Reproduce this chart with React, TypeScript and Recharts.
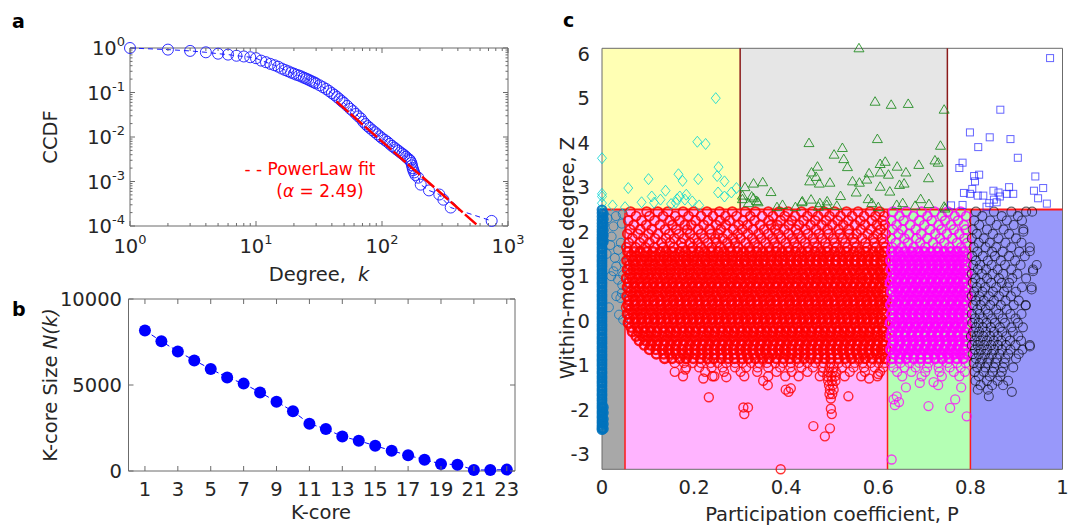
import React from "react";
import { ScatterChart, Scatter, XAxis, YAxis, ReferenceArea, ReferenceLine } from "recharts";

const FONT = "DejaVu Sans, Verdana, sans-serif";
const INK = "#262626";
const BOX = "#6b6b6b";

// ---------- a: degree distribution (CCDF) ----------
const degreeK = [1, 2, 3, 4, 5, 6, 7, 8, 9, 10, 11, 12, 13, 14, 15, 16, 17, 18, 19, 20, 21, 22, 23, 24, 25, 26, 27, 28, 29, 30,
  32, 34, 36, 38, 40, 42, 44, 46, 48, 50, 53, 56, 59, 62, 65, 68, 71, 74, 77, 80, 84, 88, 92, 96, 100, 105, 110, 115, 120,
  125, 130, 135, 140, 145, 150, 155, 160, 165, 168, 171, 173, 175, 177, 180, 184, 194, 203, 236, 285, 307, 351, 742];
const degreeCcdf = [1, 0.92, 0.86, 0.8, 0.745, 0.71, 0.67, 0.645, 0.62, 0.59, 0.52, 0.48, 0.44, 0.41, 0.38, 0.345, 0.32, 0.3,
  0.28, 0.265, 0.25, 0.24, 0.228, 0.215, 0.205, 0.195, 0.185, 0.176, 0.168, 0.16, 0.145, 0.132, 0.12, 0.108, 0.097, 0.088,
  0.079, 0.071, 0.064, 0.058, 0.05, 0.043, 0.038, 0.033, 0.029, 0.026, 0.022, 0.0195, 0.0175, 0.016, 0.0142, 0.0128, 0.0115,
  0.0104, 0.0094, 0.0086, 0.0078, 0.007, 0.0063, 0.0058, 0.0053, 0.0049, 0.0045, 0.0042, 0.0039, 0.0036, 0.0033, 0.0031,
  0.0029, 0.0026, 0.0023, 0.002, 0.0018, 0.0016, 0.0014, 0.00122, 0.00085, 0.00063, 0.00051, 0.00039, 0.00026, 0.00013];
const fitK = [43.5, 561];
const fitCcdf = [0.0627, 0.000109];
const aXTicks = [1, 2, 3, 4, 5, 6, 7, 8, 9, 10, 20, 30, 40, 50, 60, 70, 80, 90, 100, 200, 300, 400, 500, 600, 700, 800, 900, 1000];
const aYTicks = [0.0001, 0.0002, 0.0003, 0.0004, 0.0005, 0.0006, 0.0007, 0.0008, 0.0009, 0.001, 0.002, 0.003, 0.004, 0.005,
  0.006, 0.007, 0.008, 0.009, 0.01, 0.02, 0.03, 0.04, 0.05, 0.06, 0.07, 0.08, 0.09, 0.1, 0.2, 0.3, 0.4, 0.5, 0.6, 0.7, 0.8, 0.9, 1];

// ---------- b: k-core sizes ----------
const kcore = [1, 2, 3, 4, 5, 6, 7, 8, 9, 10, 11, 12, 13, 14, 15, 16, 17, 18, 19, 20, 21, 22, 23];
const kcoreSize = [8170, 7540, 6950, 6430, 5930, 5440, 5080, 4570, 4030, 3470, 2750, 2440, 2010, 1760, 1470, 1180, 910, 660,
  410, 370, 60, 60, 80];
const bXTicks = [1, 3, 5, 7, 9, 11, 13, 15, 17, 19, 21, 23];
const bYTicks = [0, 5000, 10000];

// ---------- c: roles, Z vs P ----------
// rows: [Z, P values in thousandths]
const peripheralRows: [number, string][] = [
  [2.45, "62 97 121 143 176 199 228 255 283 311 333 361 385 404 433 457 482 505 531 556 582 603"],
  [2.35, "74 103 133 159 188 215 241 268 292 322 348 371 397 419 446 469 494 518 543 569 594 613"],
  [2.25, "57 86 114 147 168 203 230 256 277 306 331 362 388 412 438 463 487 512 535 561 586 609"],
  [2.15, "69 96 126 153 180 194 221 248 269 297 316 343 367 381 406 428 453 477 500 524 549 571 597 614"],
  [2.05, "61 83 108 137 161 185 209 234 258 285 305 328 352 376 396 421 442 465 490 514 536 562 584 605"],
  [1.95, "55 78 101 122 146 167 191 215 237 252 273 295 317 340 361 383 405 426 447 471 492 516 537 553 577 598 616"],
  [1.85, "66 90 115 139 157 178 200 222 246 262 284 301 326 346 370 389 413 433 458 478 502 523 545 565 589 608"],
  [1.75, "58 82 103 129 148 172 191 208 230 249 272 289 312 332 355 375 399 418 441 461 485 505 528 548 572 591 612"],
  [1.65, "53 73 94 114 133 156 175 197 215 238 257 277 296 319 339 362 381 404 424 447 467 490 509 533 552 576 595 615"],
  [1.55, "56 70 83 97 111 126 139 153 168 181 195 210 223 237 252 265 279 294 307 321 336 349 363 378 391 405 420 433 447 462 475 489 504 517 531 546 559 573 588 602 614"],
  [1.45, "63 76 91 105 117 133 146 159 175 188 201 217 230 243 259 272 285 301 314 327 343 356 369 385 398 411 427 440 453 469 482 495 511 524 537 553 566 579 595 609"],
  [1.35, "54 68 84 97 110 125 140 152 167 182 196 208 224 238 251 266 281 293 309 323 336 350 366 379 392 408 422 435 450 464 478 491 507 521 534 548 563 576 590 605 616"],
  [1.25, "60 74 88 103 116 130 145 158 172 187 200 214 229 242 256 271 284 298 313 326 340 355 368 382 397 410 424 439 452 466 481 494 508 523 536 550 565 578 592 607"],
  [1.15, "55 68 81 96 109 124 137 150 166 179 192 208 221 234 250 263 276 292 305 318 334 347 360 376 389 402 418 431 444 460 473 486 502 515 528 544 557 570 586 599 613"],
  [1.05, "61 75 89 102 117 131 144 158 173 186 199 214 228 241 255 270 283 297 312 325 338 353 367 380 394 409 422 436 451 464 477 492 506 519 533 548 561 575 590 604 617"],
  [0.95, "53 66 80 94 108 121 136 150 163 177 191 205 219 233 247 261 275 288 302 317 330 344 358 372 386 400 414 427 441 456 469 483 497 511 525 539 553 566 580 595 609"],
  [0.85, "58 72 86 100 113 128 142 155 170 184 197 212 226 239 254 268 281 296 310 323 338 352 365 380 394 407 422 436 449 464 478 491 506 520 533 548 562 575 590 603 616"],
  [0.75, "55 69 82 97 110 124 139 152 166 181 194 208 223 236 250 265 278 292 307 320 334 349 362 376 391 404 418 433 446 460 475 488 502 517 530 544 559 572 586 601 614"],
  [0.65, "62 75 90 103 118 131 146 159 174 187 202 215 230 243 258 271 286 299 314 327 342 355 370 383 398 411 426 439 454 467 482 495 510 523 538 551 566 579 594 608"],
  [0.55, "54 67 81 96 109 123 138 151 165 180 193 207 222 235 249 264 277 291 306 319 333 348 361 375 390 403 417 432 445 459 474 487 501 516 529 543 558 571 585 600 613"],
  [0.45, "59 73 87 101 114 129 143 156 171 185 198 213 227 240 255 269 282 297 311 324 339 353 366 381 395 408 423 437 450 465 479 492 507 521 534 549 563 576 591 605 617"],
  [0.35, "56 70 84 97 111 126 140 153 167 182 196 209 224 238 251 265 280 294 307 321 336 350 363 377 392 406 419 433 448 462 475 489 504 518 531 545 560 574 587 602 615"],
  [0.25, "62 76 89 104 118 131 146 160 173 188 202 215 230 244 257 272 286 299 314 328 341 356 370 383 398 412 425 440 454 467 482 496 509 524 538 551 566 580 593 608"],
  [0.15, "55 68 83 96 110 125 138 152 167 180 194 209 222 236 251 264 278 293 306 320 335 348 362 377 390 404 419 432 446 461 474 488 503 516 530 545 558 572 587 600 614"],
  [0.05, "60 74 87 102 115 129 144 157 171 186 199 213 228 241 255 270 283 297 312 325 339 354 367 381 396 409 423 438 451 465 480 493 507 522 535 549 564 577 591 606"],
  [-0.05, "57 71 85 98 112 127 140 154 169 182 196 211 224 238 253 266 280 295 308 322 337 350 364 379 392 406 421 434 448 463 476 490 505 518 532 547 560 574 589 602 616"],
  [-0.15, "63 77 90 105 119 132 147 161 174 189 203 216 231 245 258 273 287 300 315 329 342 357 371 384 399 413 426 441 455 468 483 497 510 525 539 552 567 581 594 609"],
  [-0.25, "66 79 94 107 120 136 149 162 178 191 204 220 233 246 262 275 288 304 317 330 346 359 372 388 401 414 430 443 456 472 485 498 514 527 540 556 569 582 598 611"],
  [-0.35, "74 88 101 116 130 143 158 172 185 200 214 227 242 256 269 284 298 311 326 340 353 368 382 395 410 424 437 452 466 479 494 508 521 536 550 563 578 592 605 617"],
  [-0.45, "81 95 109 122 137 151 164 179 193 206 221 235 248 263 277 290 305 319 332 347 361 374 389 403 416 431 445 458 473 487 500 515 529 542 557 571 584 599 612"],
  [-0.55, "92 106 119 134 148 161 176 190 203 218 232 245 260 274 287 302 316 329 344 358 371 386 400 413 428 442 455 470 484 497 512 526 539 554 568 581 596 610"],
  [-0.65, "103 117 131 144 159 173 186 201 215 228 243 257 270 285 299 312 327 341 354 369 383 396 411 425 438 453 467 480 495 509 522 537 551 564 579 593 606 617"],
  [-0.75, "118 134 147 161 176 189 203 218 231 245 260 273 287 302 315 329 344 357 371 386 399 413 428 441 455 470 483 497 512 525 539 554 567 581 596 609"],
  [-0.85, "136 152 169 183 198 214 229 243 259 274 288 304 318 333 349 363 378 394 408 423 439 453 468 484 497 513 528 542 558 572 587 603 615"],
  [-0.95, "158 178 197 215 236 251 270 289 305 324 341 358 376 393 410 428 446 463 481 496 514 531 549 566 584 600 614"],
  [-1.05, "183 211 238 262 289 313 338 361 387 409 433 458 480 494 503 521 546 569 592 611"],
  [-1.15, "224 265 301 337 379 412 446 479 492 501 508 538 571 604"],
  [-1.25, "176 244 309 361 398 427 473 489 498 506 527 563 598"],
  [-1.35, "491 499 507"],
  [-1.45, "493 501"],
  [-1.55, "495 503"],
  [-1.65, "494 500"],
  [-1.75, "497"],
];
const peripheralOutliers = [[0.158, -1.15], [0.181, -1.1], [0.22, -1.3], [0.24, -1.25], [0.232, -1.72], [0.307, -1.95],
  [0.317, -1.95], [0.309, -2.1], [0.399, -1.55], [0.405, -1.6], [0.41, -1.52], [0.535, -1.7], [0.459, -2.37], [0.497, -1.98],
  [0.499, -2.1], [0.484, -2.6], [0.495, -2.42], [0.388, -3.34], [0.27, -1.27], [0.35, -1.35], [0.58, -1.3], [0.6, -1.2],
  [0.36, -1.45], [0.052, 0.3]];

const connectorRows: [number, string][] = [
  [2.45, "632 661 694 722 751 779"], [2.35, "646 676 707 738 766 791"], [2.25, "628 655 689 716 745 773"],
  [2.15, "640 669 700 731 758 786"], [2.05, "631 652 681 712 737 764 790"], [1.95, "644 667 693 724 749 776"],
  [1.85, "627 657 683 706 734 761 787"], [1.75, "638 664 691 719 743 771 793"], [1.65, "630 651 677 702 728 754 780"],
  [1.55, "629 643 657 672 686 700 714 729 743 757 771 785"], [1.45, "635 649 664 678 692 707 721 735 750 764 778 792"],
  [1.35, "627 641 656 670 684 699 713 727 742 756 770 784"], [1.25, "633 647 661 676 690 704 719 733 747 762 776 790"],
  [1.15, "628 642 657 671 685 700 714 728 743 757 771 786"], [1.05, "636 650 665 679 693 708 722 736 751 765 779 793"],
  [0.95, "630 644 658 673 687 701 716 730 744 759 773 787"], [0.85, "626 640 655 669 683 698 712 726 741 755 769 784"],
  [0.75, "634 648 662 677 691 705 720 734 748 763 777 791"], [0.65, "629 643 658 672 686 701 715 729 744 758 772 787"],
  [0.55, "637 651 666 680 694 709 723 737 752 766 780 794"], [0.45, "631 645 659 674 688 702 717 731 745 760 774 788"],
  [0.35, "627 641 656 670 684 699 713 727 742 756 770 785"], [0.25, "635 649 663 678 692 706 721 735 749 764 778 792"],
  [0.15, "629 644 658 672 687 701 715 730 744 758 773 787"], [0.05, "633 647 662 676 690 705 719 733 748 762 776 791"],
  [-0.05, "626 640 654 669 683 697 712 726 740 755 769 783"], [-0.15, "636 650 664 679 693 707 722 736 750 765 779 793"],
  [-0.25, "630 644 659 673 687 702 716 730 745 759 773 788"], [-0.35, "628 642 657 671 685 700 714 728 743 757 771 786"],
  [-0.45, "634 648 663 677 691 706 720 734 749 763 777 791"], [-0.55, "631 645 660 674 688 703 717 731 746 760 774 789"],
  [-0.65, "627 641 656 670 684 699 713 727 742 756 770 785"], [-0.75, "635 649 664 678 692 707 721 735 750 764 778 792"],
  [-0.85, "630 646 661 677 692 708 723 739 754 770 785"], [-0.95, "628 648 668 689 709 730 750 771 790"],
  [-1.05, "633 657 681 706 731 755 779"], [-1.15, "641 672 702 733 764 788"], [-1.25, "652 694 738 776"],
];
const connectorOutliers = [[0.633, -1.77], [0.636, -1.9], [0.64, -1.7], [0.645, -1.83], [0.709, -1.92], [0.756, -1.96],
  [0.767, -1.77], [0.792, -2.15], [0.629, -3.12], [0.69, -1.4], [0.73, -1.45], [0.66, -1.5], [0.78, -1.5], [0.72, -1.38]];

const kinlessRows: [number, string][] = [
  [2.45, "812 851 889 921 934"], [2.35, "826 868 903"], [2.25, "808 843 879 912"], [2.15, "819 857 894"],
  [2.05, "805 836 872 915"], [1.95, "814 849 884"], [1.85, "803 829 861 899"], [1.75, "818 842 876 911"],
  [1.65, "807 833 856 889 929"], [1.55, "815 847 870 906"], [1.45, "804 827 853 884 918"], [1.35, "812 838 866 897"],
  [1.25, "806 821 846 875 909"], [1.15, "816 834 859 889 936"], [1.05, "803 825 848 871 902"], [0.95, "811 836 862 891 921"],
  [0.85, "805 822 845 868 884"], [0.75, "814 832 856 880 912 933"], [0.65, "808 826 849 873 899"], [0.55, "803 819 840 862 888"],
  [0.45, "812 829 851 876 905"], [0.35, "806 822 843 866 894 920"], [0.25, "815 833 856 879"], [0.15, "803 820 838 861 887 911"],
  [0.05, "810 826 847 870 898"], [-0.05, "804 818 835 853 875 903"], [-0.15, "812 827 844 864 889 914"],
  [-0.25, "806 819 834 851 869 892"], [-0.35, "801 814 828 843 859 878 904"], [-0.45, "809 822 836 851 867 886 910"],
  [-0.55, "803 816 830 845 860 877 898 929"], [-0.65, "810 823 837 852 868 887 913"], [-0.75, "805 818 832 847 863 882 905"],
  [-0.85, "812 826 841 857 876 899"], [-0.95, "807 821 837 854 874"], [-1.05, "815 832 851 871 893"],
  [-1.15, "809 829 848 868"], [-1.25, "818 842 865"], [-1.35, "811 836 859 882"], [-1.45, "822 847 871"], [-1.55, "816 838"],
];
const kinlessOutliers = [[0.929, 1.56], [0.936, 1.11], [0.933, 0.7], [0.92, 0.34], [0.929, -0.58], [0.915, 2.0],
  [0.944, 1.25], [0.89, -1.6], [0.84, -1.7]];

// ultra-peripheral: Z in hundredths at P = 0, a few at P = 0.003, and scattered ones
const ultraColumnZ = "-245 -241 -236 -230 -225 -219 -214 -208 -203 -197 -192 -186 -180 -175 -169 -164 -158 -153 -147 -141 -136 -130 -125 -119 -114 -108 -102 -97 -91 -86 -80 -75 -69 -63 -58 -52 -47 -41 -36 -30 -24 -19 -13 -8 -2 4 9 15 20 26 31 37 43 48 54 59 65 70 76 82 87 93 98 104 109 115 121 126 132 137 143 148 154 160 165 171 176 182 187 193 199 205 212 219 226 234 242 249";
const ultraEdgeZ = "-243 -232 -221 -207 -195 178 191 203 216 228 240";
const ultraScatter = [[0.025, 2.12], [0.043, 2.18], [0.021, 1.89], [0.035, 1.59], [0.028, 1.41], [0.031, 1.22], [0.025, 1.11],
  [0.046, 1.03], [0.035, 0.92], [0.043, 0.62], [0.031, 0.55], [0.04, 0.51], [0.037, 0.135], [0.046, 0.02], [0.012, 2.3],
  [0.018, 1.7], [0.02, 1.0], [0.015, 0.3], [0.048, 1.3], [0.041, 1.75], [0.03, 2.35], [0.045, 2.4], [0.01, 1.5], [0.044, 0.8]];

const provincialHubs = [[0.247, 5.0], [0.207, 4.02], [0.225, 3.97], [0.0, 3.65], [0.253, 3.45], [0.166, 3.29], [0.25, 3.25],
  [0.101, 3.18], [0.175, 3.14], [0.209, 3.18], [0.266, 3.13], [0.057, 2.98], [0.138, 2.92], [0.292, 2.98], [0.252, 2.88],
  [0.281, 2.88], [0.0, 2.85], [0.0, 2.79], [0.266, 2.79], [0.183, 2.83], [0.108, 2.79], [0.127, 2.72], [0.086, 2.66],
  [0.169, 2.79], [0.16, 2.65], [0.113, 2.65], [0.023, 2.59], [0.211, 2.59], [0.0, 2.64], [0.18, 2.72], [0.163, 2.73],
  [0.15, 2.62], [0.196, 2.68], [0.05, 2.55]];
const connectorHubs = [[0.558, 6.12], [0.593, 4.92], [0.628, 4.85], [0.665, 4.87], [0.743, 4.74], [0.598, 4.08], [0.522, 3.88],
  [0.735, 3.93], [0.504, 3.73], [0.525, 3.63], [0.533, 3.45], [0.615, 3.57], [0.604, 3.52], [0.723, 3.6], [0.73, 3.55],
  [0.641, 3.46], [0.688, 3.5], [0.58, 3.31], [0.604, 3.33], [0.622, 3.28], [0.66, 3.33], [0.495, 3.1], [0.544, 3.13],
  [0.559, 3.1], [0.575, 3.17], [0.709, 3.2], [0.646, 3.05], [0.656, 3.08], [0.604, 3.01], [0.552, 2.88], [0.625, 2.9],
  [0.518, 2.8], [0.578, 2.73], [0.586, 2.64], [0.692, 2.73], [0.653, 2.64], [0.488, 2.6], [0.743, 2.56], [0.4495, 3.99],
  [0.468, 3.46], [0.455, 3.33], [0.465, 3.23], [0.451, 3.13], [0.472, 3.08], [0.3105, 3.0], [0.329, 3.08], [0.349, 3.11],
  [0.367, 2.89], [0.305, 2.81], [0.329, 2.75], [0.318, 2.64], [0.339, 2.66], [0.392, 2.6], [0.434, 2.66], [0.454, 2.72],
  [0.473, 2.64], [0.489, 2.68], [0.305, 2.73], [0.325, 2.79], [0.336, 2.69], [0.435, 2.68], [0.42, 2.55], [0.47, 2.56],
  [0.51, 2.58], [0.6, 2.55], [0.64, 2.6], [0.71, 2.62], [0.68, 2.58], [0.38, 2.55], [0.745, 2.52]];
const kinlessHubs = [[0.973, 5.9], [0.865, 4.74], [0.799, 4.23], [0.842, 4.12], [0.887, 4.08], [0.817, 3.9], [0.903, 3.66],
  [0.783, 3.55], [0.776, 3.43], [0.808, 3.25], [0.819, 3.28], [0.81, 3.13], [0.941, 3.24], [0.804, 2.96], [0.958, 2.98],
  [0.938, 2.92], [0.884, 3.0], [0.786, 2.87], [0.799, 2.85], [0.85, 2.92], [0.861, 2.88], [0.816, 2.81], [0.828, 2.81],
  [0.864, 2.79], [0.879, 2.85], [0.893, 2.85], [0.947, 2.75], [0.851, 2.72], [0.841, 2.64], [0.966, 2.63], [0.783, 2.6],
  [0.758, 2.59], [0.835, 2.56], [0.857, 2.66]];

const cXTicks = [0, 0.2, 0.4, 0.6, 0.8, 1];
const cYTicks = [-3, -2, -1, 0, 1, 2, 3, 4, 5, 6];
const zMin = -3.34;
const zMax = 6.12;

// ---------- helpers ----------
const pairs = (list: number[][]) => list.map(([x, y]) => ({ x, y }));
const fromRows = (rows: [number, string][]) =>
  rows.flatMap(([z, ps]) => ps.split(" ").map((p) => ({ x: Number(p) / 1000, y: z })));
// the packed middle of each cloud overlaps so heavily that it reads as a solid mass
const isCore = ([z]: [number, string]) => z <= 1.56 && z >= -0.86;
const isUpper = ([z]: [number, string]) => z > 1.56;
const isLower = ([z]: [number, string]) => z < -0.86;

const ccdfPts = degreeK.map((k, i) => ({ x: k, y: degreeCcdf[i] }));
const fitPts = fitK.map((k, i) => ({ x: k, y: fitCcdf[i] }));
const kcorePts = kcore.map((k, i) => ({ x: k, y: kcoreSize[i] }));
const ultraColumnPts = [
  ...ultraColumnZ.split(" ").map((z) => ({ x: 0, y: Number(z) / 100 })),
  ...ultraEdgeZ.split(" ").map((z) => ({ x: 0.003, y: Number(z) / 100 })),
];
const peripheralCore = fromRows(peripheralRows.filter(isCore));
const peripheralUpper = fromRows(peripheralRows.filter(isUpper));
const peripheralLower = [...fromRows(peripheralRows.filter(isLower)), ...pairs(peripheralOutliers)];
const connectorCore = fromRows(connectorRows.filter(isCore));
const connectorUpper = fromRows(connectorRows.filter(isUpper));
const connectorLower = [...fromRows(connectorRows.filter(isLower)), ...pairs(connectorOutliers)];
const kinlessPts = [...fromRows(kinlessRows), ...pairs(kinlessOutliers)];

const ring = (color: string, opacity: number, r = 4.5, sw = 1) => (p: any) =>
  <circle cx={p.cx} cy={p.cy} r={r} fill="none" stroke={color} strokeOpacity={opacity} strokeWidth={sw} />;
const dot = (color: string, r: number) => (p: any) => <circle cx={p.cx} cy={p.cy} r={r} fill={color} />;
const diamond = (p: any) => (
  <polygon points={`${p.cx},${p.cy - 5.5} ${p.cx + 4.5},${p.cy} ${p.cx},${p.cy + 5.5} ${p.cx - 4.5},${p.cy}`}
    fill="none" stroke="#00d4d4" strokeOpacity={0.8} />
);
const triangle = (p: any) => (
  <polygon points={`${p.cx},${p.cy - 5} ${p.cx + 5},${p.cy + 3.5} ${p.cx - 5},${p.cy + 3.5}`}
    fill="none" stroke="#1c8a1c" strokeOpacity={0.85} />
);
const square = (p: any) => (
  <rect x={p.cx - 3.5} y={p.cy - 3.5} width={7} height={7} fill="none" stroke="#2424ff" strokeOpacity={0.7} />
);
const none = () => <g />;

const txt = { fontFamily: FONT, fill: INK, fontSize: 19.5 } as const;

// ---------- a: axis geometry (chart-local) ----------
const A = { top: 48, bottom: 226, left: 130, right: 508 };
const isDecade = (v: number) => Math.abs(Math.log10(v) - Math.round(Math.log10(v))) < 1e-6;
const aXTick = (p: any) => {
  const v = p.payload.value;
  const major = isDecade(v);
  const len = major ? 5 : 3;
  return (
    <g>
      <line x1={p.x} x2={p.x} y1={A.bottom} y2={A.bottom - len} stroke={BOX} />
      <line x1={p.x} x2={p.x} y1={A.top} y2={A.top + len} stroke={BOX} />
      {major && (
        <text x={p.x} y={253} textAnchor="middle" {...txt}>
          10<tspan dy={-9} fontSize={13}>{Math.round(Math.log10(v))}</tspan>
        </text>
      )}
    </g>
  );
};
const aYTick = (p: any) => {
  const v = p.payload.value;
  const major = isDecade(v);
  const len = major ? 5 : 2.5;
  return (
    <g>
      <line x1={A.left} x2={A.left + len} y1={p.y} y2={p.y} stroke={BOX} />
      <line x1={A.right} x2={A.right - len} y1={p.y} y2={p.y} stroke={BOX} />
      {major && (
        <text x={125} y={p.y + 7} textAnchor="end" {...txt}>
          10<tspan dy={-9} fontSize={13}>{Math.round(Math.log10(v))}</tspan>
        </text>
      )}
    </g>
  );
};

// ---------- b: axis geometry (chart-local, box starts at y=270) ----------
const B = { top: 29, bottom: 201, left: 128.5, right: 515 };
const bXTick = (p: any) => (
  <g>
    <line x1={p.x} x2={p.x} y1={B.bottom} y2={B.bottom - 5} stroke={BOX} />
    <line x1={p.x} x2={p.x} y1={B.top} y2={B.top + 5} stroke={BOX} />
    <text x={p.x} y={226} textAnchor="middle" {...txt}>{p.payload.value}</text>
  </g>
);
const bYTick = (p: any) => (
  <g>
    <line x1={B.left} x2={B.left + 5} y1={p.y} y2={p.y} stroke={BOX} />
    <line x1={B.right} x2={B.right - 5} y1={p.y} y2={p.y} stroke={BOX} />
    <text x={122} y={p.y + 7} textAnchor="end" {...txt}>{p.payload.value}</text>
  </g>
);

// ---------- c: axis geometry (chart-local, box starts at x=540) ----------
const cXTick = (p: any) => (
  <text x={p.x} y={494} textAnchor="middle" {...txt}>{p.payload.value}</text>
);
const cYTick = (p: any) => (
  <text x={50} y={p.y + 7} textAnchor="end" {...txt}>{p.payload.value}</text>
);

const DegreePanel = () => (
  <ScatterChart width={540} height={300} margin={{ top: 48, right: 32, bottom: 34, left: 70 }}>
    <XAxis type="number" dataKey="x" scale="log" domain={[1, 1000]} ticks={aXTicks} interval={0}
      tick={aXTick} tickLine={false} axisLine={false} height={40} />
    <YAxis type="number" dataKey="y" scale="log" domain={[0.0001, 1]} ticks={aYTicks} interval={0}
      tick={aYTick} tickLine={false} axisLine={false} width={60} />
    <ReferenceArea x1={1} x2={1000} y1={0.0001} y2={1} fill="none" fillOpacity={0} stroke={BOX} strokeWidth={1} />
    <Scatter data={ccdfPts} shape={ring("#1a1aff", 0.9, 5.5, 1)}
      line={{ stroke: "#1a1aff", strokeWidth: 1, strokeDasharray: "5 4" }} lineType="joint" isAnimationActive={false} />
    <Scatter data={fitPts} shape={none} line={{ stroke: "#ff0000", strokeWidth: 2.5, strokeDasharray: "16 3" }}
      lineType="joint" isAnimationActive={false} />
  </ScatterChart>
);

const KcorePanel = () => (
  <ScatterChart width={540} height={257} margin={{ top: 29, right: 25, bottom: 16, left: 68.5 }}>
    <XAxis type="number" dataKey="x" domain={[0, 23.5]} ticks={bXTicks} interval={0}
      tick={bXTick} tickLine={false} axisLine={false} height={40} />
    <YAxis type="number" dataKey="y" domain={[0, 10000]} ticks={bYTicks} interval={0}
      tick={bYTick} tickLine={false} axisLine={false} width={60} />
    <ReferenceArea x1={0} x2={23.5} y1={0} y2={10000} fill="none" fillOpacity={0} stroke={BOX} strokeWidth={1} />
    <Scatter data={kcorePts} shape={dot("#0000ff", 6)}
      line={{ stroke: "#0000ff", strokeWidth: 1, strokeDasharray: "5 3" }} lineType="joint" isAnimationActive={false} />
  </ScatterChart>
);

const RolesPanel = () => (
  <ScatterChart width={532} height={527} margin={{ top: 48.3, right: 9.5, bottom: 17.7, left: 22 }}>
    <XAxis type="number" dataKey="x" domain={[0, 1]} ticks={cXTicks} interval={0}
      tick={cXTick} tickLine={false} axisLine={false} height={40} />
    <YAxis type="number" dataKey="y" domain={[zMin, zMax]} ticks={cYTicks} interval={0}
      tick={cYTick} tickLine={false} axisLine={false} width={40} />
    <ReferenceArea x1={0} x2={0.3} y1={2.5} y2={zMax} fill="#ffffb4" fillOpacity={1} stroke="none" />
    <ReferenceArea x1={0.3} x2={0.75} y1={2.5} y2={zMax} fill="#e6e6e6" fillOpacity={1} stroke="none" />
    <ReferenceArea x1={0.75} x2={1} y1={2.5} y2={zMax} fill="#ffffff" fillOpacity={1} stroke="none" />
    <ReferenceArea x1={0} x2={0.05} y1={zMin} y2={2.5} fill="#a8a8a8" fillOpacity={1} stroke="none" />
    <ReferenceArea x1={0.05} x2={0.62} y1={zMin} y2={2.5} fill="#ffb4ff" fillOpacity={1} stroke="none" />
    <ReferenceArea x1={0.62} x2={0.8} y1={zMin} y2={2.5} fill="#b4ffb4" fillOpacity={1} stroke="none" />
    <ReferenceArea x1={0.8} x2={1} y1={zMin} y2={2.5} fill="#9898fa" fillOpacity={1} stroke="none" />
    <Scatter data={ultraColumnPts} shape={ring("#0072bd", 0.9, 4.2, 2.4)} isAnimationActive={false} />
    <Scatter data={pairs(ultraScatter)} shape={ring("#0072bd", 0.75)} isAnimationActive={false} />
    <Scatter data={peripheralUpper} shape={ring("#ff0000", 0.85, 4.5, 1.9)} isAnimationActive={false} />
    <Scatter data={peripheralCore} shape={ring("#ff0000", 0.9, 4.5, 2.4)} isAnimationActive={false} />
    <Scatter data={peripheralLower} shape={ring("#ff0000", 0.8, 4.5, 1.4)} isAnimationActive={false} />
    <Scatter data={connectorUpper} shape={ring("#ff00ff", 0.8, 4.5, 1.7)} isAnimationActive={false} />
    <Scatter data={connectorCore} shape={ring("#ff00ff", 0.9, 4.5, 2.4)} isAnimationActive={false} />
    <Scatter data={connectorLower} shape={ring("#ff00ff", 0.75, 4.5, 1.3)} isAnimationActive={false} />
    <Scatter data={kinlessPts} shape={ring("#000000", 0.6, 4.5, 1.1)} isAnimationActive={false} />
    <Scatter data={pairs(provincialHubs)} shape={diamond} isAnimationActive={false} />
    <Scatter data={pairs(connectorHubs)} shape={triangle} isAnimationActive={false} />
    <Scatter data={pairs(kinlessHubs)} shape={square} isAnimationActive={false} />
    <ReferenceLine segment={[{ x: 0.3, y: 2.5 }, { x: 0.3, y: zMax }]} stroke="#8b1a1a" strokeWidth={1.5} />
    <ReferenceLine segment={[{ x: 0.75, y: 2.5 }, { x: 0.75, y: zMax }]} stroke="#8b1a1a" strokeWidth={1.5} />
    <ReferenceLine segment={[{ x: 0.05, y: zMin }, { x: 0.05, y: 2.5 }]} stroke="#ff1a1a" strokeWidth={1.5} />
    <ReferenceLine segment={[{ x: 0.62, y: zMin }, { x: 0.62, y: 2.5 }]} stroke="#ff1a1a" strokeWidth={1.5} />
    <ReferenceLine segment={[{ x: 0.8, y: zMin }, { x: 0.8, y: 2.5 }]} stroke="#ff1a1a" strokeWidth={1.5} />
    <ReferenceLine y={2.5} stroke="#ff1a1a" strokeWidth={2} />
    <ReferenceArea x1={0} x2={1} y1={zMin} y2={zMax} fill="none" fillOpacity={0} stroke={BOX} strokeWidth={1} />
  </ScatterChart>
);

export default function App() {
  return (
    <div style={{ position: "absolute", left: 0, top: 0, width: 1072, height: 527, background: "#fff", overflow: "hidden" }}>
      <div style={{ position: "absolute", left: 0, top: 0 }}><DegreePanel /></div>
      <div style={{ position: "absolute", left: 0, top: 270 }}><KcorePanel /></div>
      <div style={{ position: "absolute", left: 540, top: 0 }}><RolesPanel /></div>
      <svg width={1072} height={527} style={{ position: "absolute", left: 0, top: 0, pointerEvents: "none" }}>
        <g fontFamily={FONT} fill={INK}>
          <text x={12} y={28} fontSize={19} fontWeight="bold" fill="#000">a</text>
          <text x={12} y={316} fontSize={19} fontWeight="bold" fill="#000">b</text>
          <text x={563} y={27} fontSize={19} fontWeight="bold" fill="#000">c</text>
          <text transform="translate(57,137) rotate(-90)" textAnchor="middle" fontSize={19.5}>CCDF</text>
          <text x={319} y={281} textAnchor="middle" fontSize={19.5}>
            Degree,<tspan dx={12} fontStyle="italic">k</tspan>
          </text>
          <text transform="translate(57,385) rotate(-90)" textAnchor="middle" fontSize={19.5}>
            K-core Size <tspan fontStyle="italic">N(k)</tspan>
          </text>
          <text x={321} y={519} textAnchor="middle" fontSize={19.5}>K-core</text>
          <text transform="translate(574,258) rotate(-90)" textAnchor="middle" fontSize={19.5}>Within-module degree, Z</text>
          <text x={832} y={521} textAnchor="middle" fontSize={19.5}>Participation coefficient, P</text>
          <text x={310} y={175} textAnchor="middle" fontSize={17} fill="#ff0000">- - PowerLaw fit</text>
          <text x={320} y={197} textAnchor="middle" fontSize={17} fill="#ff0000">
            (<tspan fontStyle="italic">α</tspan> = 2.49)
          </text>
        </g>
      </svg>
    </div>
  );
}
